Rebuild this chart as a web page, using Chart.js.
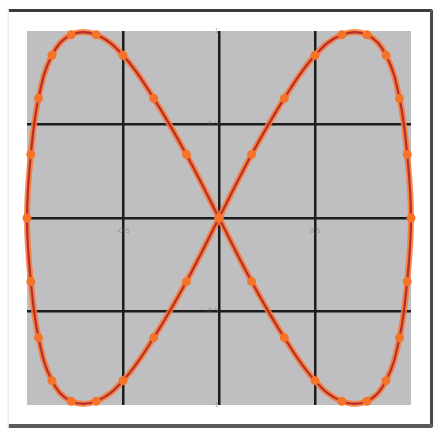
<!DOCTYPE html>
<html>
<head>
<meta charset="utf-8">
<title>Curve</title>
<script src="https://cdn.jsdelivr.net/npm/chart.js@4.4.1/dist/chart.umd.min.js"></script>
<style>
    body {
        margin: 0;
        background: #ffffff;
    }
    .wrap {
        position: relative;
        width: 438px;
        height: 428px;
        overflow: hidden;
    }
    .frame {
        position: absolute;
        left: 8px;
        top: 9px;
        width: 421px;
        height: 412px;
        border-top: 3px solid #3c3c3c;
        border-right: 3px solid #4a4a4a;
        border-bottom: 4px solid #5a5a5a;
        border-left: 1px solid #ececec;
        border-radius: 2px;
        box-shadow: 0 1px 2px rgba(0, 0, 0, 0.15);
    }
    canvas {
        position: absolute;
        left: 0;
        top: 0;
    }
</style>
</head>
<body>
<div class="wrap">
    <div class="frame"></div>
    <canvas id="curveChart" width="438" height="428"></canvas>
</div>
<script>
// Marker positions (x, y in axis units)
const xValues = [0, 0.17, 0.34, 0.5, 0.64, 0.77, 0.87, 0.94, 0.98, 1, 0.98, 0.94, 0.87, 0.77, 0.64, 0.5, 0.34, 0.17, 0,
    -0.17, -0.34, -0.5, -0.64, -0.77, -0.87, -0.94, -0.98, -1, -0.98, -0.94, -0.87, -0.77, -0.64, -0.5, -0.34, -0.17, 0];
const yValues = [0, 0.34, 0.64, 0.87, 0.98, 0.98, 0.87, 0.64, 0.34, 0, -0.34, -0.64, -0.87, -0.98, -0.98, -0.87, -0.64, -0.34, 0,
    0.34, 0.64, 0.87, 0.98, 0.98, 0.87, 0.64, 0.34, 0, -0.34, -0.64, -0.87, -0.98, -0.98, -0.87, -0.64, -0.34, 0];

// Tick labels shown next to the centre axes
const xTickLabels = [-0.5, 0.5];
const yTickLabels = [-1, -0.5, 0.5, 1];

const points = xValues.map((x, i) => ({ x: x, y: yValues[i] }));

// Grey plot background
const plotBackground = {
    id: 'plotBackground',
    beforeDraw(chart) {
        const { ctx, chartArea } = chart;
        ctx.save();
        ctx.fillStyle = '#bfbfc1';
        ctx.fillRect(chartArea.left, chartArea.top, chartArea.right - chartArea.left, chartArea.bottom - chartArea.top);
        ctx.restore();
    }
};

// Hide the grid lines that sit on the plot edges
function gridColor(ctx) {
    const v = ctx.tick ? ctx.tick.value : 0;
    return Math.abs(v) === 1 ? 'rgba(0,0,0,0)' : '#1c1c1c';
}

const ctx = document.getElementById('curveChart').getContext('2d');

new Chart(ctx, {
    type: 'scatter',
    data: {
        datasets: [
            {
                // orange markers on top
                data: points,
                showLine: false,
                pointRadius: 4.5,
                pointBackgroundColor: '#f5742a',
                pointBorderWidth: 0,
                order: 0,
                clip: false
            },
            {
                // dark red core line
                data: points,
                showLine: true,
                tension: 0.4,
                borderColor: '#b0302c',
                borderWidth: 2.2,
                pointRadius: 0,
                order: 1,
                clip: false
            },
            {
                // orange glow under the line
                data: points,
                showLine: true,
                tension: 0.4,
                borderColor: 'rgba(255, 118, 50, 0.85)',
                borderWidth: 6,
                pointRadius: 0,
                order: 2,
                clip: false
            }
        ]
    },
    options: {
        responsive: false,
        animation: false,
        events: [],
        layout: {
            padding: { left: 27, right: 27, top: 31, bottom: 23 }
        },
        plugins: {
            legend: { display: false },
            tooltip: { enabled: false }
        },
        scales: {
            x: {
                type: 'linear',
                position: { y: 0 },
                min: -1,
                max: 1,
                border: { display: false },
                grid: {
                    color: gridColor,
                    lineWidth: 2.5,
                    drawTicks: false
                },
                ticks: {
                    stepSize: 0.5,
                    padding: 9,
                    font: { size: 7, family: 'DejaVu Sans' },
                    color: 'rgba(110, 110, 110, 0.55)',
                    callback: function(value) {
                        return xTickLabels.includes(value) ? value.toFixed(1) : '';
                    }
                }
            },
            y: {
                type: 'linear',
                position: { x: 0 },
                min: -1,
                max: 1,
                border: { display: false },
                grid: {
                    color: gridColor,
                    lineWidth: 2.5,
                    drawTicks: false
                },
                ticks: {
                    stepSize: 0.5,
                    padding: 8,
                    font: { size: 7, family: 'DejaVu Sans' },
                    color: 'rgba(110, 110, 110, 0.55)',
                    callback: function(value) {
                        if (!yTickLabels.includes(value)) return '';
                        return Number.isInteger(value) ? String(value) : value.toFixed(1);
                    }
                }
            }
        }
    },
    plugins: [plotBackground]
});
</script>
</body>
</html>
